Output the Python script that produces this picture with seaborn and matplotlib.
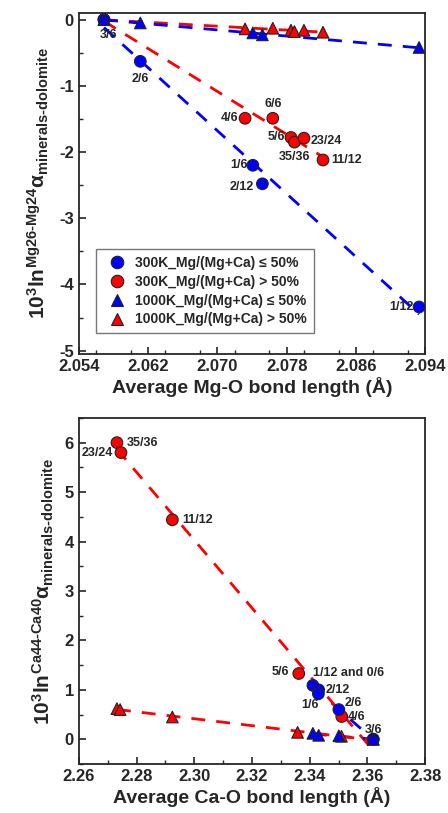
import numpy as np
import pandas as pd
import seaborn as sns
import matplotlib.pyplot as plt

# ---- data: Mg isotopes (top panel) ----
mg_c300_lo_x = [2.0569, 2.0611, 2.0741, 2.0752, 2.0933]
mg_c300_lo_y = [0.0, -0.63, -2.20, -2.48, -4.34]
mg_c300_lo_lab = ['3/6', '2/6', '1/6', '2/12', '1/12']

mg_c300_hi_x = [2.0569, 2.0732, 2.0764, 2.0785, 2.0789, 2.0800, 2.0822]
mg_c300_hi_y = [0.0, -1.49, -1.49, -1.78, -1.85, -1.79, -2.12]
mg_c300_hi_lab = ['', '4/6', '6/6', '5/6', '35/36', '23/24', '11/12']

mg_t1000_lo_x = [2.0569, 2.0611, 2.0741, 2.0752, 2.0933]
mg_t1000_lo_y = [0.0, -0.05, -0.20, -0.23, -0.42]

mg_t1000_hi_x = [2.0569, 2.0732, 2.0764, 2.0785, 2.0789, 2.0800, 2.0822]
mg_t1000_hi_y = [0.0, -0.14, -0.13, -0.16, -0.18, -0.16, -0.19]

# ---- data: Ca isotopes (bottom panel) ----
ca_c300_lo_x = [2.3411, 2.3431, 2.3430, 2.3501, 2.3620]
ca_c300_lo_y = [1.09, 1.00, 0.92, 0.60, 0.0]
ca_c300_lo_lab = ['1/12 and 0/6', '2/12', '1/6', '2/6', '3/6']

ca_c300_hi_x = [2.2732, 2.2746, 2.2924, 2.3362, 2.3511, 2.3620]
ca_c300_hi_y = [6.00, 5.80, 4.44, 1.33, 0.46, 0.0]
ca_c300_hi_lab = ['35/36', '23/24', '11/12', '5/6', '4/6', '']

ca_t1000_lo_x = [2.3411, 2.3431, 2.3501, 2.3620]
ca_t1000_lo_y = [0.12, 0.08, 0.07, 0.0]

ca_t1000_hi_x = [2.2732, 2.2743, 2.2924, 2.3358, 2.3510, 2.3620]
ca_t1000_hi_y = [0.62, 0.60, 0.45, 0.14, 0.06, 0.0]

groups = ['300K_Mg/(Mg+Ca) ≤ 50%', '300K_Mg/(Mg+Ca) > 50%',
          '1000K_Mg/(Mg+Ca) ≤ 50%', '1000K_Mg/(Mg+Ca) > 50%']

sns.set_theme(style='ticks')
plt.rcParams['font.family'] = ['Liberation Sans', 'DejaVu Sans']
plt.rcParams['font.weight'] = 'bold'
plt.rcParams['mathtext.fontset'] = 'custom'
plt.rcParams['mathtext.rm'] = 'Liberation Sans:bold'
plt.rcParams['mathtext.it'] = 'Liberation Sans:bold'
plt.rcParams['mathtext.bf'] = 'Liberation Sans:bold'
plt.rcParams['axes.linewidth'] = 1.3

colors = {groups[0]: '#0000ff', groups[1]: '#ff0000',
          groups[2]: '#0000ff', groups[3]: '#ff0000'}
markers = {groups[0]: 'o', groups[1]: 'o', groups[2]: '^', groups[3]: '^'}


def make_df(sets):
    frames = []
    for g, (xs, ys) in zip(groups, sets):
        frames.append(pd.DataFrame({'x': xs, 'y': ys, 'group': g}))
    return pd.concat(frames, ignore_index=True)


def trend(ax, xs, ys, color):
    k, b = np.polyfit(xs, ys, 1)
    xx = np.array([min(xs), max(xs)])
    ax.plot(xx, k * xx + b, ls=(0, (5, 4)), color=color, lw=2, zorder=2)


def draw_panel(ax, sets, order):
    for i in order:
        xs, ys = sets[i]
        trend(ax, xs, ys, colors[groups[i]])
    df = make_df(sets)
    # red first then blue on top
    df['o'] = df['group'].map({groups[0]: 1, groups[1]: 0, groups[2]: 3, groups[3]: 2})
    df = df.sort_values('o', kind='stable')
    sns.scatterplot(data=df, x='x', y='y', hue='group', style='group',
                    palette=colors, markers=markers, s=70,
                    edgecolor='#222222', linewidth=0.8, ax=ax, zorder=3,
                    hue_order=groups, style_order=groups)


def annotate(ax, xs, ys, labels, offsets):
    for x, y, t, (dx, dy, ha) in zip(xs, ys, labels, offsets):
        if t:
            ax.annotate(t, (x, y), xytext=(dx, dy), textcoords='offset points',
                        ha=ha, va='center', fontsize=9, fontweight='bold', zorder=5)


def style_axes(ax):
    ax.tick_params(direction='in', length=5, width=1.2, labelsize=12, top=False, right=False)
    ax.tick_params(which='minor', direction='in', length=3, width=1.0, top=False, right=False)
    for lab in ax.get_xticklabels() + ax.get_yticklabels():
        lab.set_fontweight('bold')


fig = plt.figure(figsize=(4.48, 8.13), dpi=100)
ax1 = fig.add_axes([0.176, 0.5646, 0.773, 0.4194])
ax2 = fig.add_axes([0.176, 0.0603, 0.773, 0.4256])

# top panel
mg_sets = [(mg_c300_lo_x, mg_c300_lo_y), (mg_c300_hi_x, mg_c300_hi_y),
           (mg_t1000_lo_x, mg_t1000_lo_y), (mg_t1000_hi_x, mg_t1000_hi_y)]
draw_panel(ax1, mg_sets, [1, 0, 3, 2])
ax1.set_xlim(2.054, 2.094)
ax1.set_ylim(-5.05, 0.1)
ax1.set_xticks(np.arange(2.054, 2.0945, 0.008))
ax1.set_yticks([0, -1, -2, -3, -4, -5])
ax1.set_xticklabels([f'{v:.3f}' for v in np.arange(2.054, 2.0945, 0.008)])
ax1.set_yticklabels(['0', '-1', '-2', '-3', '-4', '-5'])
ax1.xaxis.set_minor_locator(plt.MultipleLocator(0.004))
ax1.yaxis.set_minor_locator(plt.MultipleLocator(0.5))
annotate(ax1, mg_c300_lo_x, mg_c300_lo_y, mg_c300_lo_lab,
         [(3, -11, 'center'), (0, -13, 'center'), (-4, 0, 'right'),
          (-6, -2, 'right'), (-4, 0, 'right')])
annotate(ax1, mg_c300_hi_x, mg_c300_hi_y, mg_c300_hi_lab,
         [(0, 0, 'center'), (-5, 0, 'right'), (0, 10, 'center'), (-4, 0, 'right'),
          (0, -11, 'center'), (5, -2, 'left'), (6, 0, 'left')])
ax1.set_xlabel('Average Mg-O bond length (Å)', fontsize=14, fontweight='bold', labelpad=2)
ax1.set_ylabel(r'$10^3ln^{Mg26\text{-}Mg24}\alpha_{minerals\text{-}dolomite}$',
               fontsize=15, labelpad=6)
style_axes(ax1)
handles, labels = ax1.get_legend_handles_labels()
leg = ax1.legend(handles, labels, loc='lower left', bbox_to_anchor=(0.03, 0.04),
                 fontsize=10, frameon=True, fancybox=False, edgecolor='#555555',
                 handletextpad=0.3, borderpad=0.5, labelspacing=0.35)
for t in leg.get_texts():
    t.set_fontweight('bold')
for h in leg.legend_handles:
    h.set_markersize(9)

# bottom panel
ca_sets = [(ca_c300_lo_x, ca_c300_lo_y), (ca_c300_hi_x, ca_c300_hi_y),
           (ca_t1000_lo_x, ca_t1000_lo_y), (ca_t1000_hi_x, ca_t1000_hi_y)]
draw_panel(ax2, ca_sets, [0, 1, 2, 3])
ax2.set_xlim(2.26, 2.38)
ax2.set_ylim(-0.5, 6.5)
ax2.set_xticks(np.arange(2.26, 2.381, 0.02))
ax2.set_xticklabels([f'{v:.2f}' for v in np.arange(2.26, 2.381, 0.02)])
ax2.set_yticks(range(0, 7))
ax2.xaxis.set_minor_locator(plt.MultipleLocator(0.01))
ax2.yaxis.set_minor_locator(plt.MultipleLocator(0.5))
annotate(ax2, ca_c300_lo_x, ca_c300_lo_y, ca_c300_lo_lab,
         [(0, 9, 'left'), (5, 0, 'left'), (-6, -8, 'center'), (4, 5, 'left'), (-6, 7, 'left')])
annotate(ax2, ca_c300_hi_x, ca_c300_hi_y, ca_c300_hi_lab,
         [(7, 0, 'left'), (-6, 0, 'right'), (7, 0, 'left'), (-7, 1, 'right'),
          (4, 0, 'left'), (0, 0, 'left')])
ax2.set_xlabel('Average Ca-O bond length (Å)', fontsize=14, fontweight='bold', labelpad=2)
ax2.set_ylabel(r'$10^3ln^{Ca44\text{-}Ca40}\alpha_{minerals\text{-}dolomite}$',
               fontsize=15, labelpad=6)
style_axes(ax2)
ax2.get_legend().remove()

fig.savefig('out.png', dpi=100)
